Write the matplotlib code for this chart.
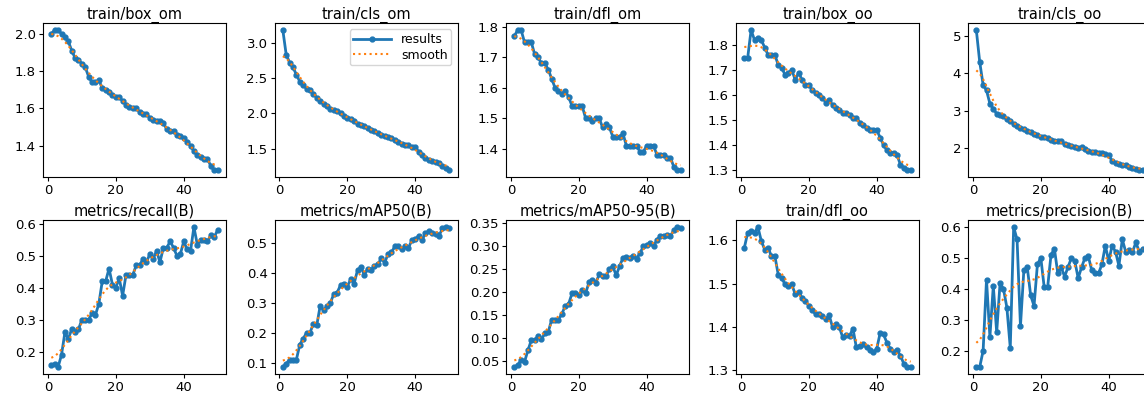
import numpy as np
import matplotlib
matplotlib.use("Agg")
import matplotlib.pyplot as plt
from matplotlib.ticker import MultipleLocator

epochs = np.arange(1, 51)

titles = ["train/box_om", "train/cls_om", "train/dfl_om", "train/box_oo", "train/cls_oo",
          "metrics/recall(B)", "metrics/mAP50(B)", "metrics/mAP50-95(B)", "train/dfl_oo",
          "metrics/precision(B)"]

box_om = [2.00, 2.02, 2.02, 2.00, 1.98, 1.96, 1.91, 1.87, 1.86, 1.84,
          1.82, 1.77, 1.74, 1.74, 1.75, 1.71, 1.70, 1.69, 1.67, 1.66,
          1.66, 1.64, 1.62, 1.61, 1.60, 1.60, 1.58, 1.57, 1.57, 1.55,
          1.54, 1.53, 1.53, 1.52, 1.49, 1.48, 1.48, 1.46, 1.45, 1.44,
          1.42, 1.40, 1.37, 1.35, 1.34, 1.33, 1.33, 1.29, 1.27, 1.27]
cls_om = [3.18, 2.83, 2.72, 2.65, 2.55, 2.45, 2.40, 2.35, 2.33, 2.28,
          2.22, 2.18, 2.14, 2.10, 2.06, 2.05, 2.03, 2.00, 1.97, 1.94,
          1.92, 1.90, 1.85, 1.83, 1.82, 1.80, 1.77, 1.75, 1.72, 1.70,
          1.68, 1.66, 1.65, 1.63, 1.60, 1.57, 1.56, 1.55, 1.53, 1.52,
          1.46, 1.41, 1.37, 1.34, 1.33, 1.32, 1.30, 1.26, 1.23, 1.20]
dfl_om = [1.77, 1.79, 1.79, 1.75, 1.75, 1.75, 1.71, 1.70, 1.68, 1.68,
          1.66, 1.63, 1.60, 1.59, 1.58, 1.59, 1.57, 1.54, 1.54, 1.54,
          1.54, 1.50, 1.50, 1.49, 1.50, 1.50, 1.47, 1.48, 1.47, 1.44,
          1.44, 1.44, 1.45, 1.41, 1.41, 1.41, 1.41, 1.39, 1.39, 1.41,
          1.41, 1.41, 1.38, 1.38, 1.38, 1.37, 1.37, 1.34, 1.33, 1.33]
box_oo = [1.75, 1.75, 1.86, 1.82, 1.83, 1.82, 1.79, 1.76, 1.76, 1.76,
          1.72, 1.71, 1.68, 1.69, 1.70, 1.66, 1.69, 1.66, 1.64, 1.64,
          1.62, 1.61, 1.60, 1.59, 1.57, 1.58, 1.56, 1.55, 1.54, 1.53,
          1.53, 1.52, 1.51, 1.51, 1.49, 1.48, 1.47, 1.46, 1.46, 1.46,
          1.43, 1.40, 1.38, 1.37, 1.37, 1.36, 1.32, 1.31, 1.30, 1.30]
cls_oo = [5.15, 4.30, 3.69, 3.54, 3.19, 3.05, 2.92, 2.88, 2.86, 2.79,
          2.72, 2.65, 2.59, 2.53, 2.51, 2.46, 2.44, 2.37, 2.34, 2.31,
          2.31, 2.27, 2.22, 2.18, 2.18, 2.18, 2.11, 2.09, 2.06, 2.02,
          2.00, 2.02, 1.98, 1.93, 1.91, 1.89, 1.87, 1.87, 1.84, 1.82,
          1.65, 1.61, 1.58, 1.55, 1.55, 1.50, 1.46, 1.44, 1.43, 1.42]
recall = [0.159, 0.162, 0.152, 0.19, 0.26, 0.24, 0.27, 0.26, 0.27, 0.30,
          0.30, 0.30, 0.32, 0.315, 0.35, 0.42, 0.42, 0.46, 0.41, 0.40,
          0.43, 0.375, 0.44, 0.44, 0.44, 0.47, 0.47, 0.49, 0.48, 0.505,
          0.49, 0.515, 0.48, 0.525, 0.525, 0.545, 0.525, 0.50, 0.505, 0.545,
          0.52, 0.515, 0.59, 0.535, 0.55, 0.55, 0.545, 0.565, 0.56, 0.58]
map50 = [0.085, 0.096, 0.11, 0.11, 0.11, 0.16, 0.18, 0.20, 0.20, 0.23,
         0.225, 0.29, 0.275, 0.29, 0.30, 0.33, 0.335, 0.36, 0.365, 0.355,
         0.38, 0.365, 0.41, 0.42, 0.395, 0.415, 0.41, 0.425, 0.43, 0.45,
         0.435, 0.465, 0.47, 0.49, 0.49, 0.48, 0.49, 0.485, 0.51, 0.515,
         0.525, 0.51, 0.535, 0.54, 0.535, 0.53, 0.525, 0.55, 0.555, 0.55]
map50_95 = [0.037, 0.041, 0.052, 0.048, 0.073, 0.095, 0.095, 0.105, 0.097, 0.11,
            0.113, 0.14, 0.14, 0.14, 0.152, 0.17, 0.174, 0.197, 0.197, 0.193,
            0.204, 0.197, 0.221, 0.227, 0.22, 0.238, 0.234, 0.234, 0.25, 0.256,
            0.236, 0.256, 0.274, 0.276, 0.274, 0.279, 0.272, 0.284, 0.299, 0.302,
            0.306, 0.299, 0.313, 0.322, 0.322, 0.324, 0.322, 0.334, 0.341, 0.338]
dfl_oo = [1.582, 1.617, 1.621, 1.617, 1.630, 1.598, 1.578, 1.582, 1.563, 1.563,
          1.520, 1.513, 1.498, 1.495, 1.498, 1.475, 1.480, 1.467, 1.460, 1.449,
          1.440, 1.429, 1.429, 1.425, 1.418, 1.427, 1.399, 1.406, 1.399, 1.376,
          1.381, 1.380, 1.396, 1.353, 1.357, 1.360, 1.353, 1.348, 1.342, 1.350,
          1.386, 1.383, 1.364, 1.350, 1.342, 1.346, 1.334, 1.315, 1.308, 1.308]
precision = [0.148, 0.148, 0.20, 0.43, 0.245, 0.41, 0.26, 0.42, 0.40, 0.34,
             0.21, 0.60, 0.56, 0.28, 0.46, 0.47, 0.38, 0.345, 0.48, 0.50,
             0.405, 0.405, 0.51, 0.53, 0.45, 0.47, 0.44, 0.47, 0.50, 0.49,
             0.435, 0.47, 0.50, 0.505, 0.46, 0.45, 0.45, 0.48, 0.54, 0.49,
             0.54, 0.52, 0.475, 0.56, 0.52, 0.525, 0.52, 0.55, 0.52, 0.53]

series = [box_om, cls_om, dfl_om, box_oo, cls_oo,
          recall, map50, map50_95, dfl_oo, precision]

# y tick spacing per panel, as in the reference
y_steps = [0.2, 0.5, 0.1, 0.1, 1, 0.1, 0.1, 0.05, 0.1, 0.1]


def gaussian_smooth(y, sigma=3):
    # same as scipy gaussian_filter1d with mode='reflect'
    radius = int(4 * sigma + 0.5)
    k = np.arange(-radius, radius + 1)
    w = np.exp(-0.5 * (k / sigma) ** 2)
    w /= w.sum()
    padded = np.pad(np.asarray(y, float), radius, mode="symmetric")
    return np.convolve(padded, w, mode="valid")


W, H = 1144, 394
fig = plt.figure(figsize=(W / 100, H / 100), dpi=100)

lefts = [43, 274.5, 506, 736, 968]
tops = [23, 220]
aw, ah = 183, 154

for i, (title, y) in enumerate(zip(titles, series)):
    r, c = divmod(i, 5)
    ax = fig.add_axes([lefts[c] / W, 1 - (tops[r] + ah) / H, aw / W, ah / H])
    ax.plot(epochs, y, marker=".", label="results", linewidth=2, markersize=7,
            color="#1f77b4")
    ax.plot(epochs, gaussian_smooth(y), ":", label="smooth", linewidth=1.5,
            color="#ff7f0e")
    ax.set_title(title, fontsize=10.5, pad=3)
    ax.tick_params(labelsize=9.5, length=3, pad=2)
    ax.yaxis.set_major_locator(MultipleLocator(y_steps[i]))
    if i == 1:
        ax.legend(loc="upper right", fontsize=9, handlelength=3,
                  borderpad=0.3, labelspacing=0.2)

fig.savefig("out.png", dpi=100)
